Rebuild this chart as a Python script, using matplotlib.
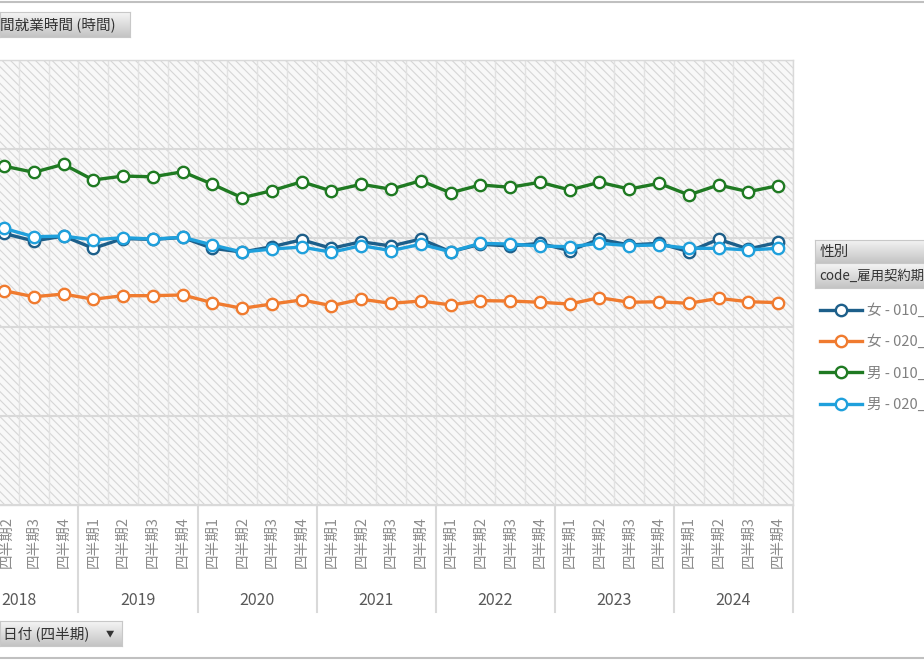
import numpy as np
import matplotlib.pyplot as plt
import matplotlib.transforms as mtransforms
from matplotlib.colors import LinearSegmentedColormap
from matplotlib.lines import Line2D
from matplotlib.patches import Rectangle

plt.rcParams['font.family'] = ['Noto Sans CJK JP', 'DejaVu Sans']
plt.rcParams['hatch.linewidth'] = 0.8

# categories
years = [2018, 2019, 2020, 2021, 2022, 2023, 2024]
quarters = ['四半期1', '四半期2', '四半期3', '四半期4']
cat_labels = [q for y in years for q in quarters]

# series (2018 Q1 is outside the visible crop)
f_010 = [np.nan, 152.6, 148.3, 151.1, 144.2, 149.7, 149.2, 150.3, 144.2, 142.1, 145.1, 149.0,
         144.2, 147.9, 145.5, 149.4, 142.3, 146.5, 145.5, 147.0, 142.9, 149.3, 146.1, 147.0,
         142.3, 149.3, 143.8, 147.6]
f_020 = [np.nan, 120.4, 117.0, 118.5, 115.6, 117.6, 117.6, 118.0, 113.7, 110.5, 112.9, 115.2,
         112.0, 115.6, 113.3, 114.6, 112.4, 114.8, 114.6, 113.9, 112.9, 116.5, 113.9, 114.2,
         113.3, 116.1, 114.2, 113.7]
m_010 = [np.nan, 190.4, 186.9, 191.4, 182.6, 184.8, 184.4, 187.2, 180.2, 172.6, 176.6, 181.6,
         176.4, 180.2, 177.4, 182.2, 175.4, 179.8, 178.5, 181.3, 177.0, 181.3, 177.5, 180.7,
         174.2, 179.8, 176.0, 179.4]
m_020 = [np.nan, 155.4, 150.7, 151.1, 148.9, 150.2, 149.4, 150.4, 146.1, 142.1, 143.8, 144.9,
         142.0, 145.7, 142.9, 146.5, 142.3, 147.0, 146.6, 145.5, 145.1, 147.0, 145.7, 146.1,
         144.2, 144.2, 143.3, 144.2]

series = [
    ('女 - 010_', f_010, '#1d5f8a'),
    ('女 - 020_', f_020, '#f07b2f'),
    ('男 - 010_', m_010, '#1f7a22'),
    ('男 - 020_', m_020, '#1fa0dc'),
]

W, H = 924, 660
fig = plt.figure(figsize=(W / 100, H / 100), dpi=100)


def px(x0, y0, x1, y1):
    return [x0 / W, 1 - y1 / H, (x1 - x0) / W, (y1 - y0) / H]


ax = fig.add_axes(px(-40.7, 60, 793, 505))
ax.set_facecolor('#f8f8f8')
ax.add_patch(Rectangle((0, 0), 1, 1, transform=ax.transAxes, facecolor='none',
                       edgecolor='#d6d6d6', hatch='\\\\\\\\', lw=0, zorder=0))

x = np.arange(len(cat_labels))
lines = []
for name, vals, col in series:
    ln, = ax.plot(x, vals, color=col, lw=2.4, marker='o', ms=8.2, mfc='white',
                  mec=col, mew=1.7, label=name, zorder=3)
    lines.append(ln)

ax.set_xlim(-0.5, len(cat_labels) - 0.5)
ax.set_ylim(0, 250)
ax.set_yticks(range(0, 251, 50))
ax.yaxis.grid(True, color='#d9d9d9', lw=1.5)
ax.set_xticks(np.arange(-0.5, len(cat_labels), 1), minor=True)
ax.xaxis.grid(True, which='minor', color='#e2e2e2', lw=1)
ax.set_axisbelow(True)
ax.tick_params(axis='y', length=0, labelleft=False)
ax.tick_params(axis='x', which='both', length=0, pad=8)
ax.set_xticks(x)
# the 2018 Q1 label lies outside the visible crop
shown = [''] + cat_labels[1:]
ax.set_xticklabels(shown, rotation=90, color='#8c8c8c', fontsize=10.5)
first = ax.get_xticklabels()[1]
first.set_horizontalalignment('left')
first.set_transform(first.get_transform() +
                    mtransforms.ScaledTranslation(-4 / 100, 0, fig.dpi_scale_trans))
for s in ax.spines.values():
    s.set_color('#d9d9d9')
    s.set_linewidth(1)

blend = mtransforms.blended_transform_factory(ax.transData, ax.transAxes)
for i, yr in enumerate(years):
    ax.text(i * 4 + 1.5, -0.2135, str(yr), transform=blend, ha='center', va='center',
            fontsize=11.5, color='#595959')
    b = i * 4 + 3.5
    ax.plot([b, b], [0, -0.24], transform=blend, color='#d9d9d9', lw=1.5, clip_on=False)

# pivot field buttons
cmap = LinearSegmentedColormap.from_list('btn', ['#f5f5f5', '#c4c4c4'])
grad = np.linspace(0, 1, 64).reshape(-1, 1)


def button(x0, y0, x1, y1, text, tx=4, fs=10.5):
    bax = fig.add_axes(px(x0, y0, x1, y1))
    bax.imshow(grad, cmap=cmap, aspect='auto', extent=[0, 1, 0, 1])
    bax.set_xticks([])
    bax.set_yticks([])
    for s in bax.spines.values():
        s.set_color('#c8c8c8')
    bax.text(tx / (x1 - x0), 0.5, text, transform=bax.transAxes, va='center',
             ha='left', fontsize=fs, color='#333333')
    return bax


button(0, 12, 130, 37, '間就業時間 (時間)', tx=0)
bb = button(0, 621, 122, 646, '日付 (四半期)', tx=3)
bb.text(110 / 122, 0.5, '▼', transform=bb.transAxes, ha='center', va='center',
        fontsize=6, color='#333333')
button(815, 240, 930, 263, '性別', tx=5)
button(815, 263, 930, 288, 'code_雇用契約期', tx=4, fs=9.6)

ax.legend(handles=lines, labels=[s[0] for s in series], loc='upper left',
          bbox_to_anchor=(820 / W, 1 - 303 / H), bbox_transform=fig.transFigure,
          frameon=False, fontsize=10.5, labelcolor='#808080', handlelength=2.9,
          handletextpad=0.3, labelspacing=1.17, borderaxespad=0, borderpad=0)

fig.add_artist(Line2D([0, 1], [1 - 1.5 / H] * 2, color='#c0c0c0', lw=1.5))
fig.add_artist(Line2D([0, 1], [1 - 658 / H] * 2, color='#c0c0c0', lw=1.5))

fig.savefig('out.png', dpi=100)
